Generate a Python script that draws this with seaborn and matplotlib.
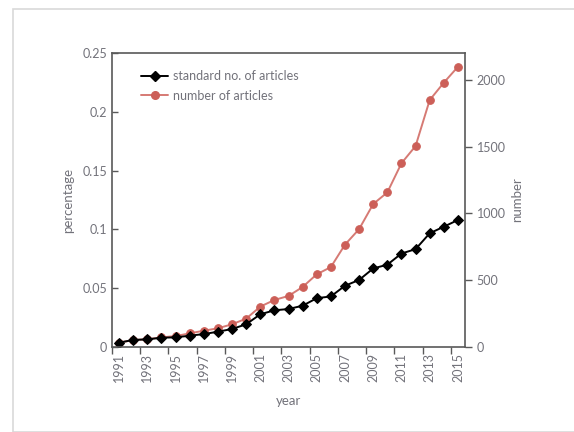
import numpy as np
import pandas as pd
import matplotlib.pyplot as plt
import seaborn as sns
from matplotlib.patches import Rectangle
from matplotlib.lines import Line2D

# data
years = list(range(1991, 2016))
pct = [0.0037, 0.0060, 0.0065, 0.0079, 0.0082, 0.0096, 0.0110, 0.0130, 0.0153, 0.0193,
       0.0278, 0.0312, 0.0323, 0.0351, 0.0415, 0.0430, 0.0521, 0.0570, 0.0668, 0.0700,
       0.0795, 0.0832, 0.0967, 0.1023, 0.1080]
counts = [32, 52, 58, 72, 82, 102, 122, 140, 170, 212,
          302, 352, 382, 449, 544, 598, 766, 882, 1070, 1157,
          1375, 1504, 1848, 1978, 2097]

df = pd.DataFrame({'idx': np.arange(len(years)), 'year': years, 'pct': pct, 'count': counts})

sns.set_style('white')
plt.rcParams['font.family'] = ['Lato', 'DejaVu Sans']
txt = '#72727a'
black = '#000000'
red = '#cc5f58'
red_line = '#d67a74'

fig = plt.figure(figsize=(5.74, 4.32), dpi=100)
# light frame around the chart area
fig.patches.append(Rectangle((13 / 574, 0), 1, 1 - 9 / 432, transform=fig.transFigure,
                             fill=False, edgecolor='#d9d9d9', linewidth=1.2))
ax = fig.add_axes([112 / 574, 85 / 432, (465 - 112) / 574, (347 - 53) / 432])
ax2 = ax.twinx()

sns.lineplot(data=df, x='idx', y='pct', ax=ax, color=black, marker='D', markersize=5,
             markeredgecolor=black, linewidth=1.4)
sns.lineplot(data=df, x='idx', y='count', ax=ax2, color=red_line, marker='o', markersize=5.5,
             markerfacecolor=red, markeredgecolor=red, linewidth=1.4)
ax.set_zorder(ax2.get_zorder() + 1)
ax.patch.set_visible(False)

ax.set_xlim(-0.5, len(years) - 0.5)
ax.set_ylim(0, 0.25)
ax2.set_ylim(0, 2200)
ax.set_yticks([0, 0.05, 0.1, 0.15, 0.2, 0.25])
ax.set_yticklabels(['0', '0.05', '0.1', '0.15', '0.2', '0.25'])
ax2.set_yticks([0, 500, 1000, 1500, 2000])

# labels on odd years, tick marks on category boundaries
ax.set_xticks(df['idx'][::2])
ax.set_xticklabels([str(y) for y in years[::2]], rotation=90)
ax.set_xticks(np.arange(-0.5, len(years) - 1, 2), minor=True)
ax.tick_params(axis='x', which='major', length=0, labelsize=9, labelcolor=txt, pad=4)
ax.tick_params(axis='x', which='minor', length=5, width=1, color='#595959', direction='out',
               bottom=True)
ax.tick_params(axis='y', length=4, width=1, color='#595959', direction='in', left=True,
               labelsize=9, labelcolor=txt)
ax2.tick_params(axis='y', length=5, width=1, color='#595959', direction='out', right=True,
                labelsize=9, labelcolor=txt)

for a in (ax, ax2):
    for s in a.spines.values():
        s.set_visible(False)
for s in ('left', 'bottom', 'top'):
    ax.spines[s].set_visible(True)
    ax.spines[s].set_color('#595959')
    ax.spines[s].set_linewidth(1.2)
ax2.spines['right'].set_visible(True)
ax2.spines['right'].set_color('#595959')
ax2.spines['right'].set_linewidth(1.2)

ax.set_xlabel('year', color=txt, fontsize=9.5, labelpad=10)
ax.set_ylabel('percentage', color=txt, fontsize=9.5, labelpad=6)
ax2.set_ylabel('number', color=txt, fontsize=9.5, labelpad=4)

handles = [Line2D([], [], color=black, marker='D', markersize=5, linewidth=1.4),
           Line2D([], [], color=red_line, marker='o', markersize=5.5, markerfacecolor=red,
                  markeredgecolor=red, linewidth=1.4)]
ax.legend(handles, ['standard no. of articles', 'number of articles'], loc='upper left',
          bbox_to_anchor=(0.05, 0.98), frameon=False, fontsize=9, labelcolor=txt,
          handlelength=2.2, handletextpad=0.4, labelspacing=0.6)

fig.savefig('out.png', dpi=100)
